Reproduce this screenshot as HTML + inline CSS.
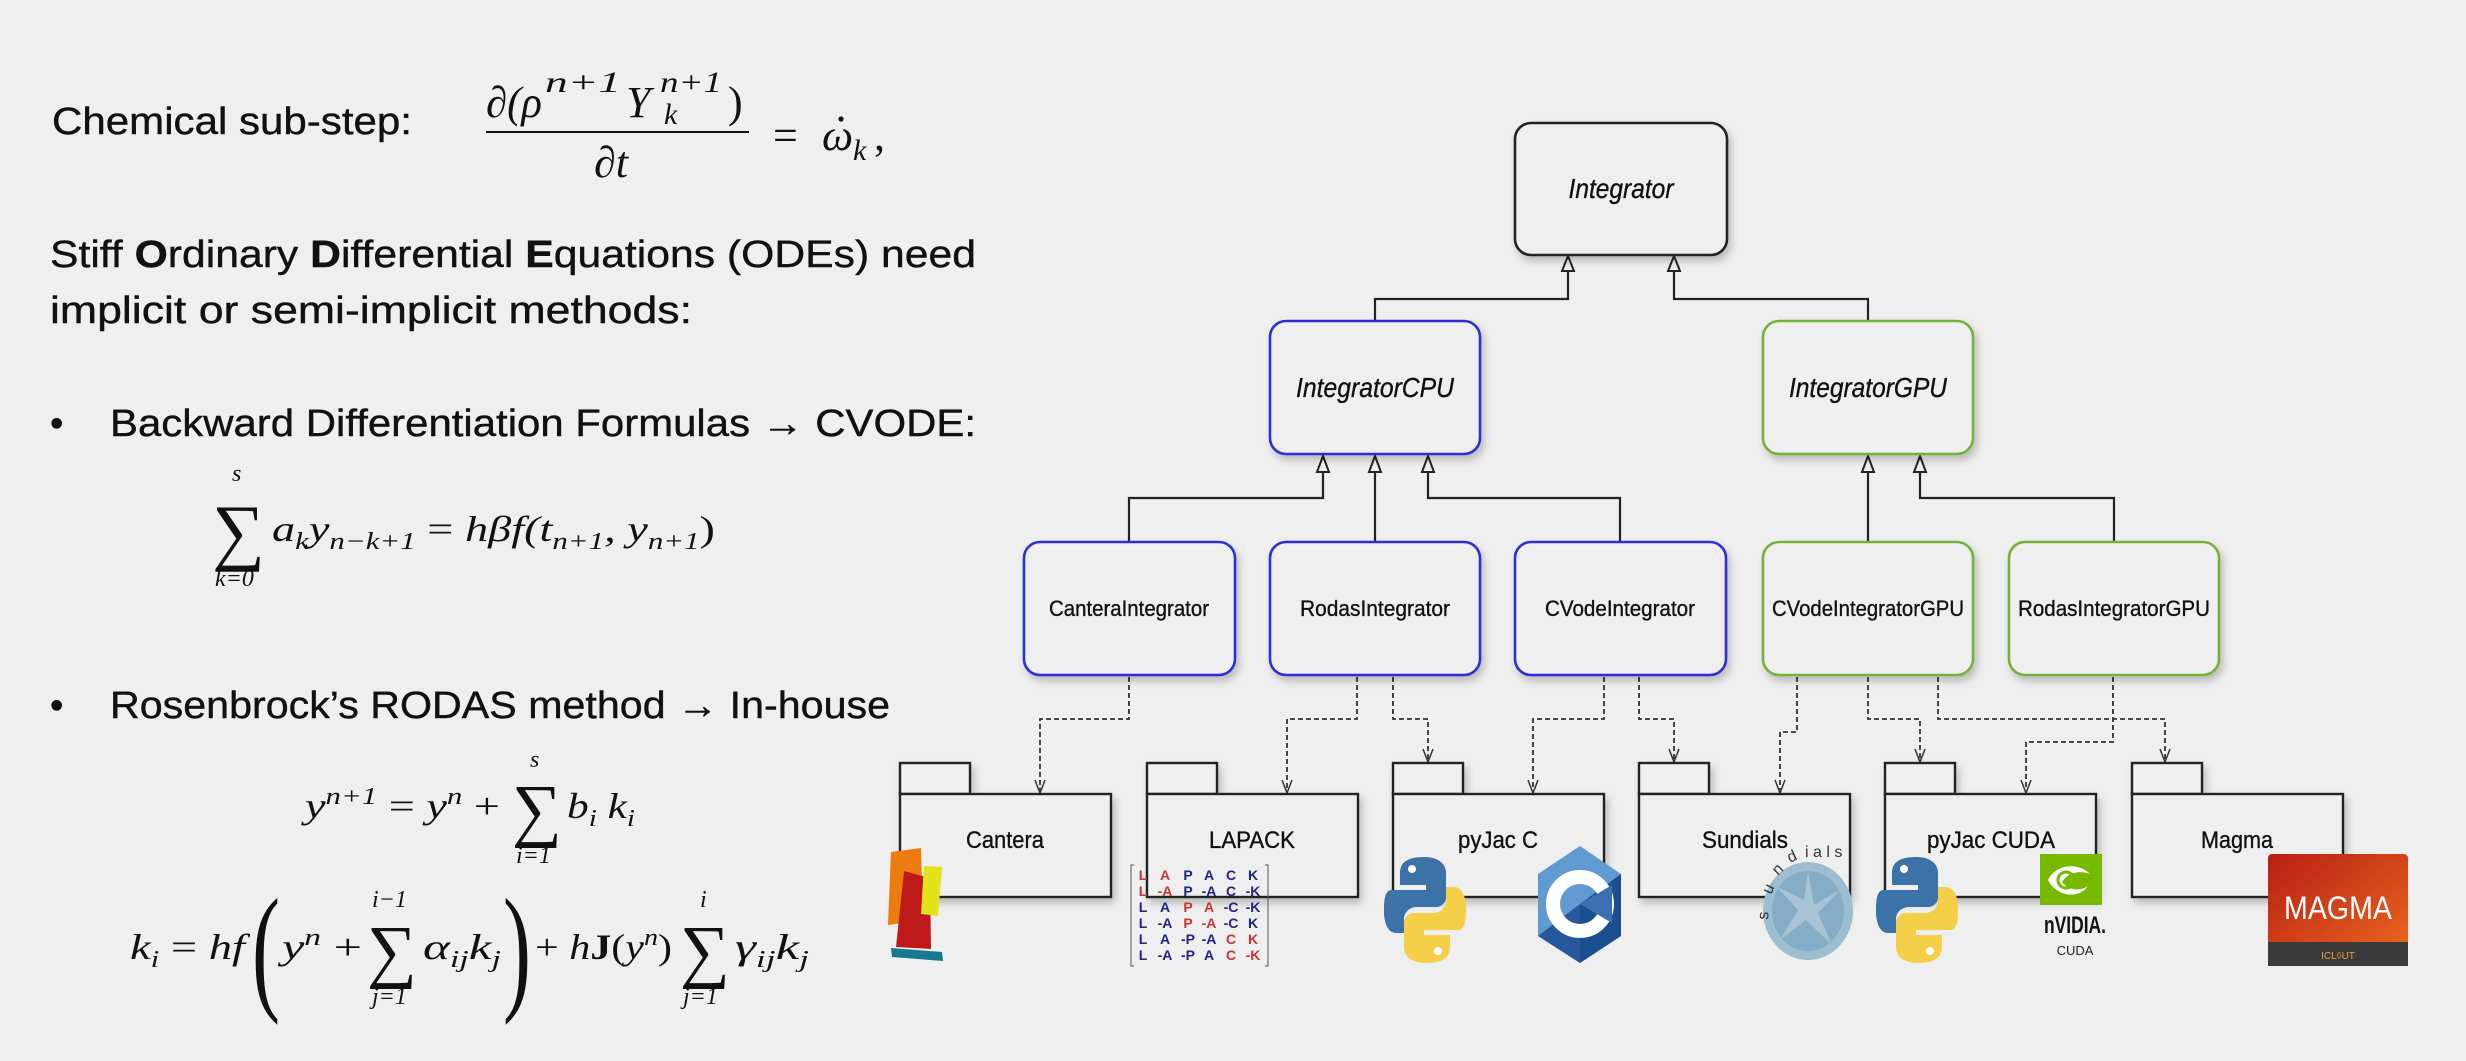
<!DOCTYPE html>
<html><head><meta charset="utf-8"><style>
html,body{margin:0;padding:0;background:#efefef;}
svg{display:block}
.t{font-family:"Liberation Sans",sans-serif;fill:#111;stroke:#111;stroke-width:0.4}
.m{font-family:"Liberation Serif",serif;font-style:italic;fill:#111}
.mu{font-family:"Liberation Serif",serif;fill:#111}
.lb{font-family:"Liberation Sans",sans-serif;fill:#111;stroke:#111;stroke-width:0.35}
</style></head><body>
<svg width="2466" height="1061" viewBox="0 0 2466 1061" xmlns="http://www.w3.org/2000/svg">
<defs>
<filter id="sh" x="-10%" y="-10%" width="130%" height="140%"><feDropShadow dx="3" dy="5" stdDeviation="4" flood-color="#000" flood-opacity="0.22"/></filter>
<linearGradient id="mg" x1="0" y1="0" x2="1" y2="1"><stop offset="0" stop-color="#b81e14"/><stop offset="1" stop-color="#ec6a1e"/></linearGradient>
<g id="py">
<path d="M40,0 C20,0 16,8 16,16 V28 H42 V33 H8 C0,33 0,45 0,55 C0,66 4,76 12,76 H20 V62 C20,55 26,50 33,50 H52 C58,50 62,45 62,40 V16 C62,8 56,0 40,0Z" fill="#3b73a8"/>
<path d="M42,106 C62,106 66,98 66,90 V78 H40 V73 H74 C82,73 82,61 82,51 C82,40 78,30 70,30 H62 V44 C62,51 56,56 49,56 H30 C24,56 20,61 20,66 V90 C20,98 26,106 42,106Z" fill="#f5cf47"/>
<circle cx="28" cy="12" r="4" fill="#fff"/><circle cx="54" cy="94" r="4" fill="#fff"/>
</g>
</defs>
<rect width="2466" height="1061" fill="#efefef"/>

<text class="t" x="52" y="134" font-size="38" textLength="360" lengthAdjust="spacingAndGlyphs">Chemical sub-step:</text>
<text class="t" x="50" y="267" font-size="38" textLength="926" lengthAdjust="spacingAndGlyphs">Stiff <tspan font-weight="bold">O</tspan>rdinary <tspan font-weight="bold">D</tspan>ifferential <tspan font-weight="bold">E</tspan>quations (ODEs) need</text>
<text class="t" x="50" y="323" font-size="38" textLength="642" lengthAdjust="spacingAndGlyphs">implicit or semi-implicit methods:</text>
<text class="t" x="50" y="436" font-size="38">•</text>
<text class="t" x="110" y="436" font-size="38" textLength="866" lengthAdjust="spacingAndGlyphs">Backward Differentiation Formulas → CVODE:</text>
<text class="t" x="50" y="718" font-size="38">•</text>
<text class="t" x="110" y="718" font-size="38" textLength="780" lengthAdjust="spacingAndGlyphs">Rosenbrock’s RODAS method → In-house</text>

<text class="m" x="486" y="117" font-size="44" textLength="56" lengthAdjust="spacingAndGlyphs">∂(ρ</text>
<text class="m" x="545" y="92" font-size="30" textLength="76" lengthAdjust="spacingAndGlyphs">n+1</text>
<text class="m" x="626" y="117" font-size="44">Y</text>
<text class="m" x="660" y="92" font-size="30" textLength="62" lengthAdjust="spacingAndGlyphs">n+1</text>
<text class="m" x="664" y="124" font-size="30">k</text>
<text class="mu" x="728" y="117" font-size="44">)</text>
<line x1="486" y1="132" x2="749" y2="132" stroke="#111" stroke-width="2"/>
<text class="m" x="594" y="177" font-size="44">∂t</text>
<text class="mu" x="773" y="150" font-size="44">=</text>
<text class="m" x="822" y="150" font-size="44">ω</text>
<circle cx="841" cy="119" r="2.6" fill="#111"/>
<text class="m" x="853" y="160" font-size="30">k</text>
<text class="mu" x="874" y="150" font-size="44">,</text>

<text class="mu" x="212" y="556" font-size="74">∑</text>
<text class="m" x="232" y="481" font-size="24">s</text>
<text class="m" x="215" y="586" font-size="24">k=0</text>
<text class="m" x="272" y="541" font-size="36" textLength="443" lengthAdjust="spacingAndGlyphs">a<tspan dy="8" font-size="24">k</tspan><tspan dy="-8">y</tspan><tspan dy="8" font-size="24">n−k+1</tspan><tspan dy="-8" font-style="normal"> = </tspan>hβf(t<tspan dy="8" font-size="24">n+1</tspan><tspan dy="-8">, y</tspan><tspan dy="8" font-size="24">n+1</tspan><tspan dy="-8" font-style="normal">)</tspan></text>

<text class="m" x="305" y="818" font-size="36" textLength="195" lengthAdjust="spacingAndGlyphs">y<tspan dy="-14" font-size="24">n+1</tspan><tspan dy="14" font-style="normal"> = </tspan>y<tspan dy="-14" font-size="24">n</tspan><tspan dy="14" font-style="normal"> +</tspan></text>
<text class="mu" x="512" y="833" font-size="70">∑</text>
<text class="m" x="530" y="767" font-size="24">s</text>
<text class="m" x="516" y="863" font-size="24">i=1</text>
<text class="m" x="567" y="818" font-size="36" textLength="68" lengthAdjust="spacingAndGlyphs">b<tspan dy="8" font-size="24">i</tspan><tspan dy="-8"> k</tspan><tspan dy="8" font-size="24">i</tspan></text>

<text class="m" x="130" y="959" font-size="36" textLength="115" lengthAdjust="spacingAndGlyphs">k<tspan dy="8" font-size="24">i</tspan><tspan dy="-8" font-style="normal"> = </tspan>hf</text>
<text class="mu" x="252" y="995" font-size="140" transform="translate(252 995) scale(0.6 1) translate(-252 -995)">(</text>
<text class="m" x="282" y="959" font-size="36" textLength="80" lengthAdjust="spacingAndGlyphs">y<tspan dy="-14" font-size="24">n</tspan><tspan dy="14" font-style="normal"> +</tspan></text>
<text class="mu" x="367" y="974" font-size="70">∑</text>
<text class="m" x="372" y="907" font-size="24">i−1</text>
<text class="m" x="372" y="1004" font-size="24">j=1</text>
<text class="m" x="423" y="959" font-size="36" textLength="78" lengthAdjust="spacingAndGlyphs">α<tspan dy="8" font-size="24">ij</tspan><tspan dy="-8">k</tspan><tspan dy="8" font-size="24">j</tspan></text>
<text class="mu" x="503" y="995" font-size="140" transform="translate(503 995) scale(0.6 1) translate(-503 -995)">)</text>
<text class="m" x="535" y="959" font-size="36" textLength="137" lengthAdjust="spacingAndGlyphs"><tspan font-style="normal">+ </tspan>h<tspan font-style="normal" font-weight="bold">J</tspan><tspan font-style="normal">(</tspan>y<tspan dy="-14" font-size="24">n</tspan><tspan dy="14" font-style="normal">)</tspan></text>
<text class="mu" x="680" y="974" font-size="70">∑</text>
<text class="m" x="700" y="907" font-size="24">i</text>
<text class="m" x="683" y="1004" font-size="24">j=1</text>
<text class="m" x="735" y="959" font-size="36" textLength="74" lengthAdjust="spacingAndGlyphs">γ<tspan dy="8" font-size="24">ij</tspan><tspan dy="-8">k</tspan><tspan dy="8" font-size="24">j</tspan></text>

<g stroke="#222" stroke-width="2.2" fill="none">
<polyline points="1375,321 1375,299 1568,299 1568,270"/>
<polyline points="1868,321 1868,299 1674,299 1674,270"/>
<polyline points="1129,542 1129,498 1323,498 1323,472"/>
<polyline points="1375,542 1375,472"/>
<polyline points="1620,542 1620,498 1428,498 1428,472"/>
<polyline points="1868,542 1868,472"/>
<polyline points="2114,542 2114,498 1920,498 1920,472"/>
</g>
<g stroke="#222" stroke-width="2" fill="#efefef">
<polygon points="1568,256 1562,271 1574,271"/>
<polygon points="1674,256 1668,271 1680,271"/>
<polygon points="1323,456 1317,472 1329,472"/>
<polygon points="1375,456 1369,472 1381,472"/>
<polygon points="1428,456 1422,472 1434,472"/>
<polygon points="1868,456 1862,472 1874,472"/>
<polygon points="1920,456 1914,472 1926,472"/>
</g>

<g stroke="#333" stroke-width="1.8" fill="none" stroke-dasharray="5,3">
<polyline points="1129,677 1129,719 1040,719 1040,790"/>
<polyline points="1357,677 1357,719 1287,719 1287,790"/>
<polyline points="1393,677 1393,719 1428,719 1428,759"/>
<polyline points="1604,677 1604,719 1533,719 1533,790"/>
<polyline points="1639,677 1639,719 1674,719 1674,759"/>
<polyline points="1797,677 1797,732 1780,732 1780,790"/>
<polyline points="1868,677 1868,719 1920,719 1920,759"/>
<polyline points="1938,677 1938,719 2165,719 2165,759"/>
<polyline points="2113,677 2113,742 2026,742 2026,790"/>
</g>
<g stroke="#333" stroke-width="1.5" fill="none">
<polyline points="1035,780 1040,793 1045,780"/>
<polyline points="1282,780 1287,793 1292,780"/>
<polyline points="1423,749 1428,762 1433,749"/>
<polyline points="1528,780 1533,793 1538,780"/>
<polyline points="1669,749 1674,762 1679,749"/>
<polyline points="1775,780 1780,793 1785,780"/>
<polyline points="1915,749 1920,762 1925,749"/>
<polyline points="2160,749 2165,762 2170,749"/>
<polyline points="2021,780 2026,793 2031,780"/>
</g>

<g filter="url(#sh)" fill="#efefef" stroke-width="2.6">
<rect x="1515" y="123" width="212" height="132" rx="16" stroke="#222"/>
<rect x="1270" y="321" width="210" height="133" rx="16" stroke="#2f2fd8"/>
<rect x="1763" y="321" width="210" height="133" rx="16" stroke="#72b33a"/>
<rect x="1024" y="542" width="211" height="133" rx="16" stroke="#2f2fd8"/>
<rect x="1270" y="542" width="210" height="133" rx="16" stroke="#2f2fd8"/>
<rect x="1515" y="542" width="211" height="133" rx="16" stroke="#2f2fd8"/>
<rect x="1763" y="542" width="210" height="133" rx="16" stroke="#72b33a"/>
<rect x="2009" y="542" width="210" height="133" rx="16" stroke="#72b33a"/>
</g>
<g class="lb">
<text x="1621" y="198" font-size="28" font-style="italic" text-anchor="middle" textLength="105" lengthAdjust="spacingAndGlyphs">Integrator</text>
<text x="1375" y="397" font-size="28" font-style="italic" text-anchor="middle" textLength="158" lengthAdjust="spacingAndGlyphs">IntegratorCPU</text>
<text x="1868" y="397" font-size="28" font-style="italic" text-anchor="middle" textLength="158" lengthAdjust="spacingAndGlyphs">IntegratorGPU</text>
<text x="1129" y="616" font-size="22" text-anchor="middle" textLength="160" lengthAdjust="spacingAndGlyphs">CanteraIntegrator</text>
<text x="1375" y="616" font-size="22" text-anchor="middle" textLength="150" lengthAdjust="spacingAndGlyphs">RodasIntegrator</text>
<text x="1620" y="616" font-size="22" text-anchor="middle" textLength="150" lengthAdjust="spacingAndGlyphs">CVodeIntegrator</text>
<text x="1868" y="616" font-size="22" text-anchor="middle" textLength="192" lengthAdjust="spacingAndGlyphs">CVodeIntegratorGPU</text>
<text x="2114" y="616" font-size="22" text-anchor="middle" textLength="192" lengthAdjust="spacingAndGlyphs">RodasIntegratorGPU</text>
</g>

<g filter="url(#sh)" fill="#efefef" stroke="#222" stroke-width="2.4">
<rect x="900" y="763" width="70" height="31"/><rect x="900" y="794" width="211" height="103"/>
<rect x="1147" y="763" width="70" height="31"/><rect x="1147" y="794" width="211" height="103"/>
<rect x="1393" y="763" width="70" height="31"/><rect x="1393" y="794" width="211" height="103"/>
<rect x="1639" y="763" width="70" height="31"/><rect x="1639" y="794" width="211" height="103"/>
<rect x="1885" y="763" width="70" height="31"/><rect x="1885" y="794" width="211" height="103"/>
<rect x="2132" y="763" width="70" height="31"/><rect x="2132" y="794" width="211" height="103"/>
</g>
<g class="lb" font-size="24" text-anchor="middle">
<text x="1005" y="848" textLength="78" lengthAdjust="spacingAndGlyphs">Cantera</text>
<text x="1252" y="848" textLength="86" lengthAdjust="spacingAndGlyphs">LAPACK</text>
<text x="1498" y="848" textLength="80" lengthAdjust="spacingAndGlyphs">pyJac C</text>
<text x="1745" y="848" textLength="86" lengthAdjust="spacingAndGlyphs">Sundials</text>
<text x="1991" y="848" textLength="128" lengthAdjust="spacingAndGlyphs">pyJac CUDA</text>
<text x="2237" y="848" textLength="72" lengthAdjust="spacingAndGlyphs">Magma</text>
</g>

<polygon points="891,852 921,848 923,920 888,925" fill="#ee7b10"/>
<polygon points="904,871 930,878 931,949 896,947" fill="#bf1a1a"/>
<polygon points="924,866 942,867 938,916 921,914" fill="#e3e31c"/>
<polygon points="891,948 942,952 943,961 892,957" fill="#17798f"/>
<g font-family="Liberation Sans,sans-serif" font-weight="bold" font-size="14" text-anchor="middle">
<path d="M1134,865 h-3 v101 h3 M1265,865 h3 v101 h-3" stroke="#555" fill="none"/>
<text x="1143" y="880" fill="#c33">L</text><text x="1165" y="880" fill="#c33">A</text><text x="1188" y="880" fill="#228">P</text><text x="1209" y="880" fill="#228">A</text><text x="1231" y="880" fill="#228">C</text><text x="1253" y="880" fill="#228">K</text>
<text x="1143" y="896" fill="#c33">L</text><text x="1165" y="896" fill="#c33">-A</text><text x="1188" y="896" fill="#228">P</text><text x="1209" y="896" fill="#228">-A</text><text x="1231" y="896" fill="#228">C</text><text x="1253" y="896" fill="#228">-K</text>
<text x="1143" y="912" fill="#228">L</text><text x="1165" y="912" fill="#228">A</text><text x="1188" y="912" fill="#c33">P</text><text x="1209" y="912" fill="#c33">A</text><text x="1231" y="912" fill="#228">-C</text><text x="1253" y="912" fill="#228">-K</text>
<text x="1143" y="928" fill="#228">L</text><text x="1165" y="928" fill="#228">-A</text><text x="1188" y="928" fill="#c33">P</text><text x="1209" y="928" fill="#c33">-A</text><text x="1231" y="928" fill="#228">-C</text><text x="1253" y="928" fill="#228">K</text>
<text x="1143" y="944" fill="#228">L</text><text x="1165" y="944" fill="#228">A</text><text x="1188" y="944" fill="#228">-P</text><text x="1209" y="944" fill="#228">-A</text><text x="1231" y="944" fill="#c33">C</text><text x="1253" y="944" fill="#c33">K</text>
<text x="1143" y="960" fill="#228">L</text><text x="1165" y="960" fill="#228">-A</text><text x="1188" y="960" fill="#228">-P</text><text x="1209" y="960" fill="#228">A</text><text x="1231" y="960" fill="#c33">C</text><text x="1253" y="960" fill="#c33">-K</text>
</g>
<use href="#py" x="1384" y="857"/>
<polygon points="1580,846 1621,874 1621,936 1580,963 1538,936 1538,874" fill="#6199d1"/>
<polygon points="1580,904 1621,874 1621,936 1580,963" fill="#1c4f8f"/>
<polygon points="1580,904 1580,963 1538,936" fill="#27579c"/>
<circle cx="1580" cy="904" r="27" fill="none" stroke="#fff" stroke-width="14"/>
<polygon points="1580,904 1612,885 1612,923" fill="#3a6fb0"/>
<ellipse cx="1808" cy="911" rx="45" ry="49" fill="#9dbdd0"/>
<ellipse cx="1808" cy="911" rx="36" ry="40" fill="#85adc8"/>
<polygon points="1808,872 1814,905 1840,890 1818,913 1832,945 1806,920 1780,940 1798,910 1776,886 1804,900" fill="#a7c4d6"/>
<g font-family="Liberation Sans,sans-serif" font-size="16" fill="#333">
<text x="1768" y="920" transform="rotate(-85 1768 920)">s</text>
<text x="1771" y="895" transform="rotate(-65 1771 895)">u</text>
<text x="1778" y="876" transform="rotate(-45 1778 876)">n</text>
<text x="1790" y="863" transform="rotate(-25 1790 863)">d</text>
<text x="1805" y="857">i a l s</text>
</g>
<use href="#py" x="1876" y="857"/>
<rect x="2040" y="854" width="62" height="51" fill="#76b900"/>
<path d="M2048,880 c8,-16 30,-18 42,-6 c-10,-4 -22,-2 -28,8 c6,8 18,10 26,4 c-10,14 -32,10 -40,-6z" fill="#fff"/>
<circle cx="2066" cy="880" r="8" fill="none" stroke="#76b900" stroke-width="3"/>
<text x="2075" y="933" font-family="Liberation Sans,sans-serif" font-weight="bold" font-size="24" text-anchor="middle" fill="#111" textLength="62" lengthAdjust="spacingAndGlyphs">nVIDIA.</text>
<text x="2075" y="955" font-family="Liberation Sans,sans-serif" font-size="13" text-anchor="middle" fill="#222">CUDA</text>
<rect x="2268" y="854" width="140" height="112" rx="4" fill="url(#mg)"/>
<rect x="2268" y="942" width="140" height="24" fill="#3a3a3a"/>
<text x="2338" y="919" font-family="Liberation Sans,sans-serif" font-size="32" text-anchor="middle" fill="#fff" textLength="108" lengthAdjust="spacingAndGlyphs">MAGMA</text>
<text x="2338" y="959" font-family="Liberation Sans,sans-serif" font-size="10" text-anchor="middle" fill="#e9a040">ICL◊UT</text>
</svg>
</body></html>
